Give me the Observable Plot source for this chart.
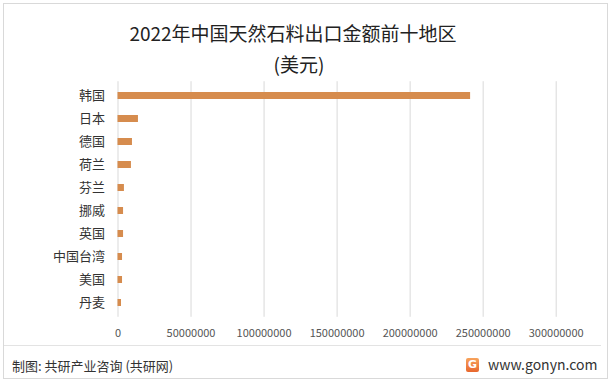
<!DOCTYPE html>
<html>
<head>
<meta charset="utf-8">
<script src="https://cdn.jsdelivr.net/npm/d3@7"></script>
<script src="https://cdn.jsdelivr.net/npm/@observablehq/plot@0.6"></script>
<style>
  html, body { margin: 0; padding: 0; background: #fff; }
  #wrap { position: relative; width: 612px; height: 386px; overflow: hidden; font-family: "Noto Sans CJK SC", sans-serif; }
  #border { position: absolute; left: 3px; top: 3px; width: 605px; height: 376px; border: 1px solid #d9d9d9; box-sizing: border-box; }
  #sep { position: absolute; left: 4px; top: 345px; width: 597px; height: 1px; background: #e3e3e3; }
  .t { position: absolute; left: 0; width: 586px; text-align: center; color: #222; font-size: 19px; white-space: nowrap; }
  #chart { position: absolute; left: 0; top: 70px; line-height: 0; }
  #foot { position: absolute; left: 12px; top: 356px; font-size: 13px; color: #333; white-space: nowrap; }
  #site { position: absolute; left: 488px; top: 354px; font-size: 14px; color: #333; white-space: nowrap; }
  #logo { position: absolute; left: 466px; top: 358px; width: 13px; height: 14px; border-radius: 2px; background: linear-gradient(#f7a35c, #e8672d); color: #fff; font: bold 11px "DejaVu Sans", sans-serif; text-align: center; line-height: 14px; }
</style>
</head>
<body>
<div id="wrap">
  <div id="border"></div>
  <div class="t" style="top:19px">2022年中国天然石料出口金额前十地区</div>
  <div class="t" style="top:50px;left:6px">(美元)</div>
  <div id="chart"></div>
  <div id="sep"></div>
  <div id="foot">制图: 共研产业咨询 (共研网)</div>
  <div id="logo">G</div>
  <div id="site">www.gonyn.com</div>
</div>
<script>
const categories = ["韩国", "日本", "德国", "荷兰", "芬兰", "挪威", "英国", "中国台湾", "美国", "丹麦"];
const values = [241400000, 14000000, 9900000, 9200000, 4400000, 3800000, 3800000, 3100000, 3100000, 2400000];
const xTicks = [0, 50000000, 100000000, 150000000, 200000000, 250000000, 300000000];

const data = categories.map((name, i) => ({name, value: values[i]}));

const chart = Plot.plot({
  width: 612,
  height: 280,
  marginLeft: 117.5,
  marginRight: 56.3,
  marginTop: 11.2,
  marginBottom: 33.2,
  style: {fontFamily: "'Noto Sans CJK SC', sans-serif", background: "transparent", overflow: "visible"},
  x: {domain: [0, 300000000]},
  y: {domain: categories, paddingInner: 0.68, paddingOuter: 0.34},
  marks: [
    Plot.gridX(xTicks, {stroke: "#d9d9d9", strokeOpacity: 1, strokeWidth: 1}),
    Plot.barX(data, {x: "value", y: "name", fill: "#d68c4e"}),
    Plot.axisX(xTicks, {tickSize: 0, tickPadding: 12, tickFormat: d3.format("d"), fontSize: 11, color: "#555", label: null}),
    Plot.axisY({tickSize: 0, tickPadding: 13, fontSize: 13, color: "#333", label: null})
  ]
});
document.getElementById("chart").appendChild(chart);
</script>
</body>
</html>
